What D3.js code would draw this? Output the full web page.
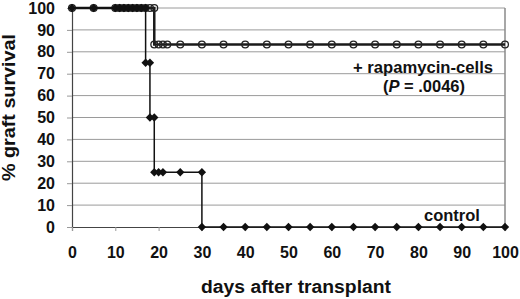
<!DOCTYPE html>
<html><head><meta charset="utf-8">
<script src="https://cdn.jsdelivr.net/npm/d3@7"></script>
<style>body{margin:0;background:#fff}svg{display:block}text{font-family:Arial,"Liberation Sans",sans-serif;font-weight:bold}</style>
</head><body>
<svg id="c" width="520" height="299"></svg>
<script>
const xTicks = [0,10,20,30,40,50,60,70,80,90,100];
const yTicks = [0,10,20,30,40,50,60,70,80,90,100];
// Kaplan-Meier steps: [day, survival]
const controlDays = [0,5,10,11,12,13,14,15,16,17,17,18,18,19,19,20,21,25,30,30,35,40,45,50,55,60,65,70,75,80,85,90,95,100];
const controlSurv = [100,100,100,100,100,100,100,100,100,100,75,75,50,50,25,25,25,25,25,0,0,0,0,0,0,0,0,0,0,0,0,0,0,0];
const rapaDays = [0,5,10,11,12,13,14,15,16,17,18,19,19,20,21,22,25,30,35,40,45,50,55,60,65,70,75,80,85,90,95,100];
const rapaSurv = [100,100,100,100,100,100,100,100,100,100,100,100,83.33,83.33,83.33,83.33,83.33,83.33,83.33,83.33,83.33,83.33,83.33,83.33,83.33,83.33,83.33,83.33,83.33,83.33,83.33,83.33];

const svg = d3.select("#c");
const x = d3.scaleLinear().domain([0,100]).range([72,505]);
const y = d3.scaleLinear().domain([0,100]).range([227,8]);

// gridlines
svg.append("g").selectAll("line").data(yTicks.filter(d=>d>0)).join("line")
  .attr("x1",x(0)).attr("x2",x(100)).attr("y1",d=>y(d)).attr("y2",d=>y(d))
  .attr("stroke","#9a9a9a").attr("stroke-width",1);
// right border
svg.append("line").attr("x1",x(100)).attr("x2",x(100)).attr("y1",y(100)).attr("y2",y(0))
  .attr("stroke","#8a8a8a").attr("stroke-width",1.5);

// axes
const yAxis = svg.append("g").attr("transform",`translate(${x(0)},0)`)
  .call(d3.axisLeft(y).tickValues(yTicks).tickSize(5).tickPadding(12));
const xAxis = svg.append("g").attr("transform",`translate(0,${y(0)})`)
  .call(d3.axisBottom(x).tickValues(xTicks).tickSize(4).tickPadding(16));
[yAxis,xAxis].forEach(a=>{
  a.select(".domain").attr("stroke","#444").attr("stroke-width",1.2);
  a.selectAll(".tick line").attr("stroke","#999");
  a.selectAll("text").attr("font-size",16).attr("fill","#111").attr("font-family","Arial,'Liberation Sans',sans-serif").attr("font-weight","bold");
});

const line = d3.line().x(d=>x(d[0])).y(d=>y(d[1]));
const rapa = rapaDays.map((d,i)=>[d,rapaSurv[i]]);
const ctrl = controlDays.map((d,i)=>[d,controlSurv[i]]);

svg.append("path").datum(rapa).attr("d",line).attr("fill","none").attr("stroke","#1a1a1a").attr("stroke-width",2.5);
svg.append("g").selectAll("circle").data(rapa).join("circle")
  .attr("cx",d=>x(d[0])).attr("cy",d=>y(d[1])).attr("r",3.4)
  .attr("fill","none").attr("stroke","#222").attr("stroke-width",1.3);

svg.append("path").datum(ctrl).attr("d",line).attr("fill","none").attr("stroke","#111").attr("stroke-width",1.5);
svg.append("g").selectAll("path").data(ctrl).join("path")
  .attr("transform",d=>`translate(${x(d[0])},${y(d[1])})`)
  .attr("d",d3.symbol(d3.symbolDiamond2,44)())
  .attr("fill","#111");

// labels
svg.append("text").attr("x",423).attr("y",73).attr("text-anchor","middle").attr("font-size",16).attr("textLength",140).attr("lengthAdjust","spacingAndGlyphs").attr("fill","#111").text("+ rapamycin-cells");
const p = svg.append("text").attr("x",424).attr("y",92).attr("text-anchor","middle").attr("font-size",16.5).attr("fill","#111");
p.append("tspan").text("(");
p.append("tspan").attr("font-style","italic").text("P");
p.append("tspan").text(" = .0046)");
svg.append("text").attr("x",452).attr("y",221).attr("text-anchor","middle").attr("font-size",16.5).attr("fill","#111").text("control");

svg.append("text").attr("x",296).attr("y",292.5).attr("text-anchor","middle").attr("font-size",17.5).attr("textLength",190).attr("lengthAdjust","spacingAndGlyphs").attr("fill","#111").text("days after transplant");
svg.append("text").attr("transform","translate(14.5,107.5) rotate(-90)").attr("text-anchor","middle").attr("font-size",17.5).attr("textLength",147).attr("lengthAdjust","spacingAndGlyphs").attr("fill","#111").text("% graft survival");
</script>
</body></html>
